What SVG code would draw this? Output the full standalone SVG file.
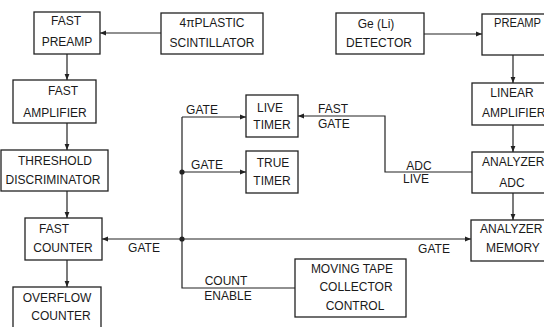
<svg xmlns="http://www.w3.org/2000/svg" width="544" height="327" viewBox="0 0 544 327">
<style>
.b{fill:#fff;stroke:#222;stroke-width:1.3}
.t{font-family:"Liberation Sans",Arial,sans-serif;font-size:12px;fill:#1a1a1a;text-anchor:middle}
.s{text-anchor:start}
.c{fill:none;stroke:#222;stroke-width:1.2}
.a{marker-end:url(#ah)}
</style>
<defs>
<marker id="ah" markerUnits="userSpaceOnUse" markerWidth="7" markerHeight="6" refX="6" refY="3" orient="auto">
<path d="M0,0.6 L6,3 L0,5.4 z" fill="#222"/>
</marker>
</defs>
<rect width="544" height="327" fill="#fff"/>
<g id="connectors">
<path class="c a" d="M161,33 H100"/>
<path class="c a" d="M67,54 V80"/>
<path class="c a" d="M67,123 V150"/>
<path class="c a" d="M67,191 V218"/>
<path class="c a" d="M67,260 V287"/>
<path class="c a" d="M182,239 H102"/>
<path class="c a" d="M182,239 H471"/>
<path class="c" d="M182,117 V288 H295"/>
<path class="c a" d="M182,117 H246"/>
<path class="c a" d="M182,172 H246"/>
<path class="c a" d="M472,172 H385 V116 H298"/>
<path class="c a" d="M424,34 H482"/>
<path class="c a" d="M513,55 V83"/>
<path class="c a" d="M513,125 V152"/>
<path class="c a" d="M513,193 V220"/>
<circle cx="182" cy="172" r="2.6" fill="#222"/>
<circle cx="182" cy="239" r="2.6" fill="#222"/>
<text class="t" x="202" y="114">GATE</text>
<text class="t" x="207" y="169">GATE</text>
<text class="t s" x="318" y="113">FAST</text>
<text class="t s" x="318" y="128">GATE</text>
<text class="t" x="419" y="170">ADC</text>
<text class="t" x="416" y="183">LIVE</text>
<text class="t" x="144" y="252">GATE</text>
<text class="t" x="434" y="253">GATE</text>
<text class="t" x="226" y="285">COUNT</text>
<text class="t" x="228" y="300">ENABLE</text>
</g>
<g id="fast-preamp"><rect class="b" x="34" y="12" width="66" height="42"/><text class="t" x="66" y="25">FAST</text><text class="t" x="67" y="46">PREAMP</text></g>
<g id="scintillator"><rect class="b" x="161" y="13" width="102" height="41"/><text class="t" x="212" y="27">4πPLASTIC</text><text class="t" x="212" y="47">SCINTILLATOR</text></g>
<g id="fast-amplifier"><rect class="b" x="13" y="80" width="83" height="43"/><text class="t" x="63" y="95">FAST</text><text class="t" x="55" y="117">AMPLIFIER</text></g>
<g id="threshold-discriminator"><rect class="b" x="1" y="150" width="107" height="41"/><text class="t" x="55" y="165">THRESHOLD</text><text class="t" x="53" y="184">DISCRIMINATOR</text></g>
<g id="fast-counter"><rect class="b" x="25" y="218" width="77" height="42"/><text class="t" x="54" y="233">FAST</text><text class="t" x="63" y="252">COUNTER</text></g>
<g id="overflow-counter"><rect class="b" x="13" y="287" width="88" height="45"/><text class="t" x="57" y="302">OVERFLOW</text><text class="t" x="61" y="320">COUNTER</text></g>
<g id="live-timer"><rect class="b" x="246" y="95" width="52" height="42"/><text class="t" x="270" y="112">LIVE</text><text class="t" x="272" y="129">TIMER</text></g>
<g id="true-timer"><rect class="b" x="246" y="151" width="52" height="42"/><text class="t" x="273" y="167">TRUE</text><text class="t" x="272" y="185">TIMER</text></g>
<g id="moving-tape"><rect class="b" x="295" y="259" width="111" height="58"/><text class="t" x="352" y="273">MOVING TAPE</text><text class="t" x="356" y="291">COLLECTOR</text><text class="t" x="355" y="310">CONTROL</text></g>
<g id="ge-detector"><rect class="b" x="336" y="13" width="88" height="41"/><text class="t" x="376" y="28">Ge (Li)</text><text class="t" x="379" y="47">DETECTOR</text></g>
<g id="preamp"><rect class="b" x="482" y="14" width="70" height="41"/><text class="t s" x="494" y="27" textLength="47" lengthAdjust="spacingAndGlyphs">PREAMP</text></g>
<g id="linear-amplifier"><rect class="b" x="472" y="83" width="80" height="42"/><text class="t" x="512" y="97">LINEAR</text><text class="t s" x="482" y="117">AMPLIFIER</text></g>
<g id="analyzer-adc"><rect class="b" x="472" y="152" width="80" height="41"/><text class="t s" x="482" y="166">ANALYZER</text><text class="t" x="512" y="187">ADC</text></g>
<g id="analyzer-memory"><rect class="b" x="471" y="220" width="81" height="41"/><text class="t s" x="480" y="233">ANALYZER</text><text class="t" x="513" y="252">MEMORY</text></g>
</svg>
